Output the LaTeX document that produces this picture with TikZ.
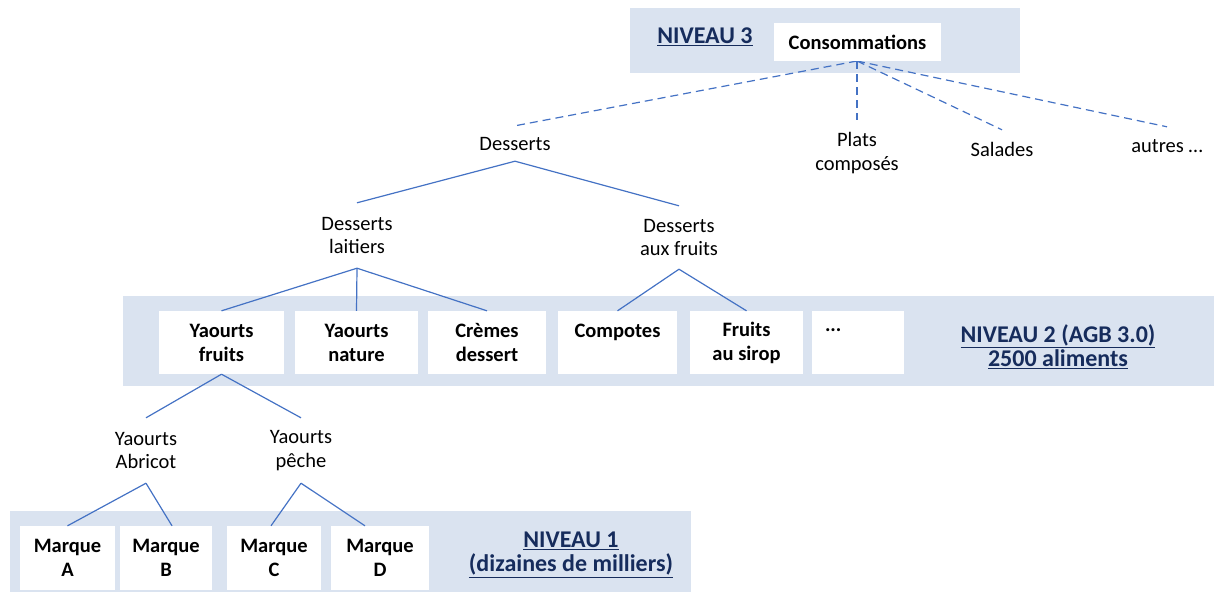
\documentclass[tikz,border=0pt]{standalone}
\usepackage{fontspec}
\setmainfont{Carlito}
\definecolor{bandc}{RGB}{218,227,240}
\definecolor{lnk}{RGB}{68,114,196}
\definecolor{navy}{RGB}{22,44,92}
\begin{document}
\begin{tikzpicture}[x=1pt,y=-1pt,
  bandbox/.style={fill=bandc, draw=none},
  wbox/.style={fill=white, draw=none, inner sep=0pt, align=center, font=\bfseries\fontsize{20.5}{24}\selectfont},
  plain/.style={inner sep=0pt, align=center, font=\fontsize{20.5}{23.5}\selectfont},
  lvl/.style={align=center, text=navy, inner sep=0pt, font=\bfseries\fontsize{24}{24}\selectfont},
  link/.style={draw=lnk, line width=1.2pt},
  dlink/.style={link, dash pattern=on 8pt off 5pt}]
\useasboundingbox (0,0) rectangle (1214,592);
% bands
\fill[bandbox] (630,8) rectangle (1020,73);
\fill[bandbox] (123,296) rectangle (1214,386);
\fill[bandbox] (10,511) rectangle (691,592);
% level labels
\node[lvl] (n3) at (705,37) {\underline{NIVEAU 3}};
\node[lvl] (n2) at (1058,346.5) {\underline{NIVEAU 2 (AGB 3.0)}\\\underline{2500 aliments}};
\node[lvl] (n1) at (571,555) {\underline{NIVEAU 1}\\\underline{(dizaines de milliers)}};
% text nodes
\node[plain, minimum height=35pt] (desserts) at (515,143.5) {Desserts};
\node[plain, minimum height=65pt] (laitiers) at (357,235.5) {Desserts\\laitiers};
\node[plain, minimum height=63pt] (auxfruits) at (679,237.5) {Desserts\\aux fruits};
\node[plain, minimum height=65pt] (abricot) at (146,450.5) {Yaourts\\Abricot};
\node[plain, minimum height=65pt] (peche) at (301,450.5) {Yaourts\\pêche};
\node[plain, minimum height=66pt] (plats) at (857,153) {Plats\\composés};
\node[plain, minimum height=38pt] (salades) at (1002,149) {Salades};
\node[plain, minimum height=38pt] (autres) at (1167,146) {autres …};
% connectors
\draw[dlink] (857,61) coordinate (cs) -- (desserts.north);
\draw[dlink] (cs) -- (plats.north);
\draw[dlink] (cs) -- (salades.north);
\draw[dlink] (cs) -- (autres.north);
% boxes
\node[wbox, minimum width=167pt, minimum height=38pt] (cons) at (857.5,42) {Consommations};
\node[wbox, minimum width=125pt, minimum height=63pt] (yf) at (221.5,342.5) {Yaourts\\fruits};
\node[wbox, minimum width=123pt, minimum height=63pt] (yn) at (356.5,342.5) {Yaourts\\nature};
\node[wbox, minimum width=118pt, minimum height=63pt] (cr) at (487,342.5) {Crèmes\\dessert};
\node[wbox, minimum width=119pt, minimum height=63pt] (co) at (617.5,342.5) {Compotes\\~};
\node[wbox, minimum width=113pt, minimum height=63pt] (fs) at (746.5,342.5) {Fruits\\au sirop};
\node[wbox, minimum height=63pt, text width=66pt, inner xsep=13pt, align=left] (dots) at (858,342.5) {...\\~};
\node[wbox, minimum width=95pt, minimum height=64pt] (ma) at (67.5,558) {Marque\\A};
\node[wbox, minimum width=92pt, minimum height=64pt] (mb) at (166,558) {Marque\\B};
\node[wbox, minimum width=94pt, minimum height=64pt] (mc) at (274,558) {Marque\\C};
\node[wbox, minimum width=98pt, minimum height=64pt] (md) at (380,558) {Marque\\D};
\draw[link] (desserts.south) -- (laitiers.north);
\draw[link] (desserts.south) -- (auxfruits.north);
\draw[link] (laitiers.south) -- (yf.north);
\draw[link] (laitiers.south) -- (yn.north);
\draw[link] (laitiers.south) -- (cr.north);
\draw[link] (auxfruits.south) -- (co.north);
\draw[link] (auxfruits.south) -- (fs.north);
\draw[link] (yf.south) -- (abricot.north);
\draw[link] (yf.south) -- (peche.north);
\draw[link] (abricot.south) -- (ma.north);
\draw[link] (abricot.south) -- ([xshift=6pt]mb.north);
\draw[link] (peche.south) -- ([xshift=-3pt]mc.north);
\draw[link] (peche.south) -- ([xshift=-15pt]md.north);
\end{tikzpicture}
\end{document}
